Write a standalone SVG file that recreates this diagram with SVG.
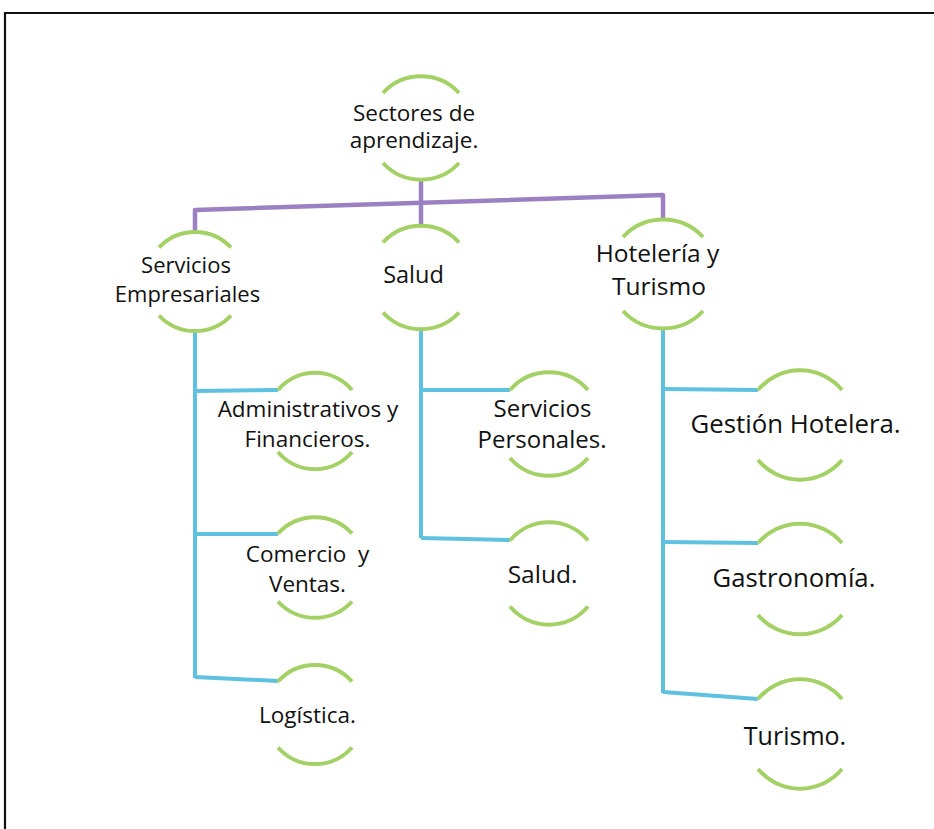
<svg xmlns="http://www.w3.org/2000/svg" width="934" height="829" viewBox="0 0 934 829">
<style>
.arc{fill:none;stroke:#a3d165;stroke-width:4;stroke-linecap:butt}
.pur{fill:none;stroke:#9b80c2;stroke-width:4.5;stroke-linejoin:round}
.blu{fill:none;stroke:#5ec1e0;stroke-width:4;stroke-linejoin:round}
text{font-family:"Open Sans","Noto Sans","Liberation Sans",sans-serif;fill:#111;text-anchor:middle}
</style>
<rect x="0" y="0" width="934" height="829" fill="#fff"/>
<path d="M5,829 V13 H934" fill="none" stroke="#111" stroke-width="2.2"/>
<g id="connectors">
<path class="pur" d="M421,180 V225"/>
<path class="pur" d="M195,231 V210 L663,195 V219"/>
<path class="blu" d="M195,331 V678"/>
<path class="blu" d="M195,391 L278,390"/>
<path class="blu" d="M195,534 L278,534"/>
<path class="blu" d="M195,677 L278,681"/>
<path class="blu" d="M421,330 V538"/>
<path class="blu" d="M421,390 L510,390"/>
<path class="blu" d="M421,538 L510,540"/>
<path class="blu" d="M663,328 V693"/>
<path class="blu" d="M663,389 L758,390"/>
<path class="blu" d="M663,542 L758,543"/>
<path class="blu" d="M663,692 L758,699"/>
</g>
<g id="root">
<path class="arc" d="M383,93 A51.7,51.7 0 0 1 459,93"/>
<path class="arc" d="M383,163 A51.7,51.7 0 0 0 459,163"/>
<text x="414" y="121" font-size="22.5">Sectores de</text>
<text x="414" y="148" font-size="22.5">aprendizaje.</text>
</g>
<g id="servicios-empresariales">
<path class="arc" d="M159,247.5 A49.5,49.5 0 0 1 231,247.5"/>
<path class="arc" d="M159,315.5 A49.5,49.5 0 0 0 231,315.5"/>
<text x="186" y="273" font-size="22">Servicios</text>
<text x="187.5" y="302" font-size="22">Empresariales</text>
</g>
<g id="salud">
<path class="arc" d="M383,242.5 A51.7,51.7 0 0 1 459,242.5"/>
<path class="arc" d="M383,312.5 A51.7,51.7 0 0 0 459,312.5"/>
<text x="413.5" y="283" font-size="23.5">Salud</text>
</g>
<g id="hoteleria-turismo">
<path class="arc" d="M623,237 A54.5,54.5 0 0 1 703,237"/>
<path class="arc" d="M623,311 A54.5,54.5 0 0 0 703,311"/>
<text x="657.5" y="262" font-size="24.5">Hotelería y</text>
<text x="659" y="295" font-size="24.5">Turismo</text>
</g>
<g id="administrativos">
<path class="arc" d="M278,390 A48.3,48.3 0 0 1 352,390"/>
<path class="arc" d="M278,452 A48.3,48.3 0 0 0 352,452"/>
<text x="308" y="417" font-size="22.5">Administrativos y</text>
<text x="307.5" y="447" font-size="22.5">Financieros.</text>
</g>
<g id="comercio">
<path class="arc" d="M278,533.5 A50.2,50.2 0 0 1 352,533.5"/>
<path class="arc" d="M278,601.5 A50.2,50.2 0 0 0 352,601.5"/>
<text x="307.5" y="562" font-size="22.5" style="white-space:pre">Comercio  y</text>
<text x="307.5" y="592" font-size="22.5">Ventas.</text>
</g>
<g id="logistica">
<path class="arc" d="M278,681.5 A49.5,49.5 0 0 1 352,681.5"/>
<path class="arc" d="M278,747.5 A49.5,49.5 0 0 0 352,747.5"/>
<text x="307.5" y="723" font-size="22.5">Logística.</text>
</g>
<g id="servicios-personales">
<path class="arc" d="M510,390 A51.7,51.7 0 0 1 588,390"/>
<path class="arc" d="M510,458 A51.7,51.7 0 0 0 588,458"/>
<text x="542.5" y="417" font-size="24">Servicios</text>
<text x="542" y="448" font-size="24">Personales.</text>
</g>
<g id="salud-2">
<path class="arc" d="M510,540.5 A51,51 0 0 1 588,540.5"/>
<path class="arc" d="M510,606.5 A51,51 0 0 0 588,606.5"/>
<text x="542.5" y="583" font-size="24.5">Salud.</text>
</g>
<g id="gestion-hotelera">
<path class="arc" d="M758,390 A54.7,54.7 0 0 1 842,390"/>
<path class="arc" d="M758,460 A54.7,54.7 0 0 0 842,460"/>
<text x="795.5" y="433" font-size="25.8">Gestión Hotelera.</text>
</g>
<g id="gastronomia">
<path class="arc" d="M758,543 A55.3,55.3 0 0 1 842,543"/>
<path class="arc" d="M758,615 A55.3,55.3 0 0 0 842,615"/>
<text x="794" y="587" font-size="25.7">Gastronomía.</text>
</g>
<g id="turismo">
<path class="arc" d="M758,699 A54.7,54.7 0 0 1 842,699"/>
<path class="arc" d="M758,769 A54.7,54.7 0 0 0 842,769"/>
<text x="795" y="745" font-size="25">Turismo.</text>
</g>
</svg>
